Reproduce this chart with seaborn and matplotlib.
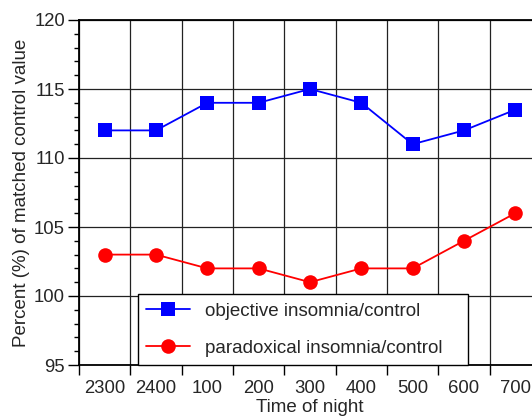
import matplotlib
matplotlib.use('Agg')
import matplotlib.pyplot as plt
import seaborn as sns
import pandas as pd
from matplotlib.ticker import MultipleLocator, FixedLocator

times = ['2300', '2400', '100', '200', '300', '400', '500', '600', '700']
objective = [112, 112, 114, 114, 115, 114, 111, 112, 113.5]
paradoxical = [103, 103, 102, 102, 101, 102, 102, 104, 106]

df = pd.DataFrame({'pos': range(len(times)), 'objective': objective, 'paradoxical': paradoxical})

sns.set_style('white')
plt.rcParams['font.family'] = ['Liberation Sans', 'DejaVu Sans']
plt.rcParams['font.size'] = 13.5

fig = plt.figure(figsize=(5.32, 4.18), dpi=100)
ax = fig.add_axes([79 / 532, (418 - 365) / 418, 462 / 532, 345 / 418])

sns.lineplot(x='pos', y='objective', data=df, color='#0000ff', marker='s', markersize=10,
             markeredgewidth=0, linewidth=1.3, label='objective insomnia/control', ax=ax)
sns.lineplot(x='pos', y='paradoxical', data=df, color='#ff0000', marker='o', markersize=10.5,
             markeredgewidth=0, linewidth=1.3, label='paradoxical insomnia/control', ax=ax)

ax.set_xlim(-0.5, len(times) - 0.5)
ax.set_ylim(95, 120)
ax.set_xticks(range(len(times)))
ax.set_xticklabels(times)
ax.xaxis.set_minor_locator(FixedLocator([i + 0.5 for i in range(-1, len(times))]))
ax.tick_params(axis='x', which='major', length=0, pad=11, labelsize=13.3)
ax.tick_params(axis='x', which='minor', length=7, width=1, color='black', bottom=True)
ax.yaxis.set_major_locator(MultipleLocator(5))
ax.yaxis.set_minor_locator(MultipleLocator(1))
ax.tick_params(axis='y', which='major', length=8, width=1, color='black', left=True, labelsize=13.3, pad=2)
ax.tick_params(axis='y', which='minor', length=3.5, width=1, color='black', left=True)

ax.grid(True, axis='y', which='major', color='#222222', linewidth=0.9)
ax.grid(True, axis='x', which='minor', color='#222222', linewidth=0.9)
ax.set_axisbelow(True)
for s in ax.spines.values():
    s.set_color('black')
    s.set_linewidth(1.3)

ax.set_xlabel('Time of night', fontsize=13.5, labelpad=1)
ax.set_ylabel('Percent (%) of matched control value', fontsize=13.5, labelpad=3)

leg = ax.legend(loc='lower left', bbox_to_anchor=(59 / 462, 0, 330 / 462, 0.2), mode='expand',
                fancybox=False, framealpha=1, edgecolor='black', handlelength=2.3,
                labelspacing=1.05, borderpad=0.45, handletextpad=0.8, borderaxespad=0,
                fontsize=13.5)
leg.get_frame().set_linewidth(1)

fig.savefig('out.png', dpi=100)
